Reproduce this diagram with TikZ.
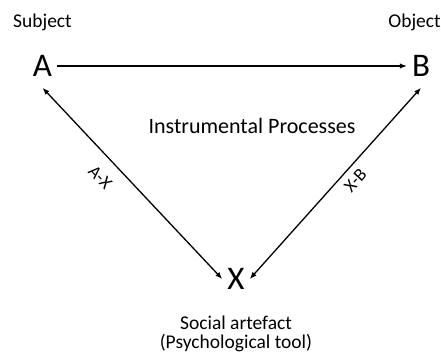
\documentclass[tikz,border=0pt]{standalone}
\usepackage{fontspec}
\setmainfont{Carlito}
\usetikzlibrary{arrows.meta,positioning}

\begin{document}
\begin{tikzpicture}[x=1pt, y=1pt,
  vertex/.style={inner xsep=5pt, inner ysep=11pt, font=\fontsize{33}{36}\selectfont},
  role/.style={inner sep=2pt, align=center, font=\fontsize{19.5}{19}\selectfont},
  edgelabel/.style={sloped, inner sep=2pt, font=\fontsize{18}{19}\selectfont},
  arrow/.style={-{Latex[length=7pt,width=5.5pt]}, line width=1.3pt},
  dblarrow/.style={{Latex[length=7pt,width=5.5pt]}-{Latex[length=7pt,width=5.5pt]}, line width=1.3pt}
]
\useasboundingbox (0,0) rectangle (441,353);
\node[vertex] (A) at (42.5,287) {A};
\node[vertex] (B) at (421,287) {B};
\node[vertex] (X) at (236,74) {X};

\node[role, above=11pt of A] (subj) {Subject};
\node[role, above=11pt of B, xshift=-6.5pt] (obj) {Object};
\node[role, below=13pt of X] (artefact) {Social artefact\\(Psychological tool)};
\node[font=\fontsize{22}{24}\selectfont] (proc) at (252,227) {Instrumental Processes};

\draw[arrow] (A) -- (B);
\draw[dblarrow] (A.south) -- node[edgelabel, pos=0.4, below=11pt] {A-X} (X.west);
\draw[dblarrow] (X.east) -- node[edgelabel, pos=0.56, below=4.5pt] {X-B} (B.south);
\end{tikzpicture}
\end{document}
